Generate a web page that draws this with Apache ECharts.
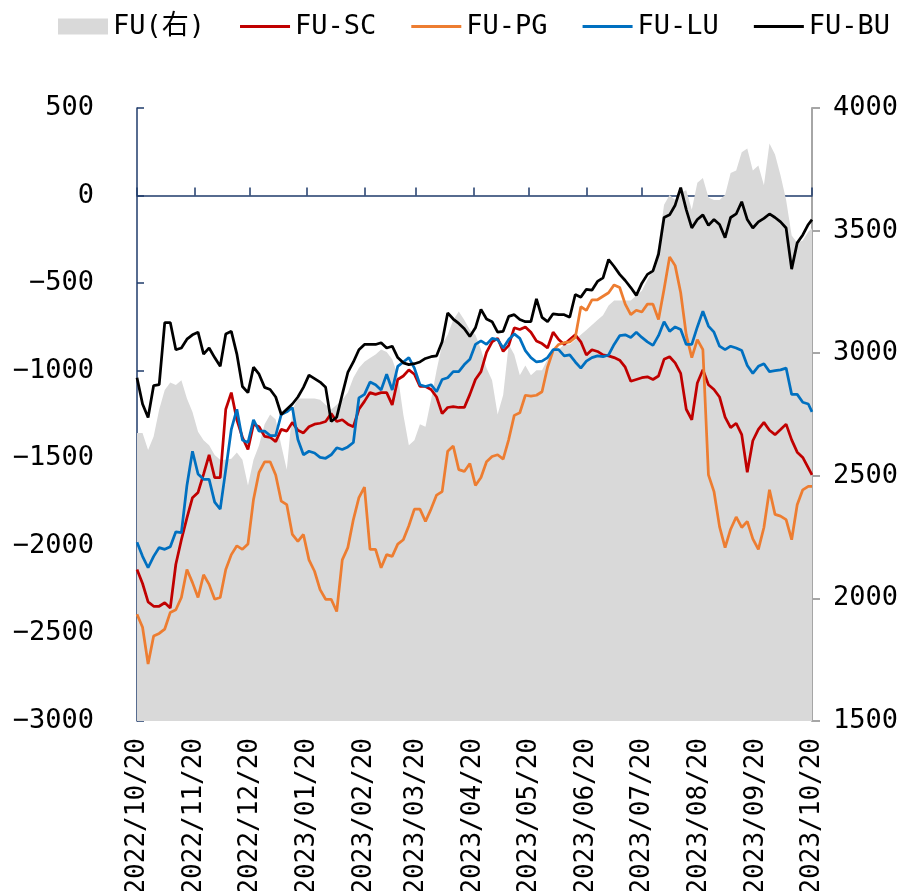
<!DOCTYPE html>
<html><head><meta charset="utf-8">
<script src="https://cdn.jsdelivr.net/npm/echarts@6/dist/echarts.min.js"></script>
<style>html,body{margin:0;padding:0;background:#fff}#c{width:903px;height:891px}</style>
</head><body><div id="c"></div>
<script>
const dates = [
'2022-10-20','2022-10-23','2022-10-26','2022-10-29',
'2022-11-01','2022-11-04','2022-11-07','2022-11-10','2022-11-13','2022-11-16','2022-11-19','2022-11-22','2022-11-25','2022-11-28',
'2022-12-01','2022-12-04','2022-12-07','2022-12-10','2022-12-13','2022-12-16','2022-12-19','2022-12-22','2022-12-25','2022-12-28','2022-12-31',
'2023-01-03','2023-01-06','2023-01-09','2023-01-12','2023-01-15','2023-01-18','2023-01-21','2023-01-24','2023-01-27','2023-01-30',
'2023-02-02','2023-02-05','2023-02-08','2023-02-11','2023-02-14','2023-02-17','2023-02-20','2023-02-23','2023-02-26',
'2023-03-01','2023-03-04','2023-03-07','2023-03-10','2023-03-13','2023-03-16','2023-03-19','2023-03-22','2023-03-25','2023-03-28','2023-03-31',
'2023-04-03','2023-04-06','2023-04-09','2023-04-12','2023-04-15','2023-04-18','2023-04-21','2023-04-24','2023-04-27','2023-04-30',
'2023-05-03','2023-05-06','2023-05-09','2023-05-12','2023-05-15','2023-05-18','2023-05-21','2023-05-24','2023-05-27','2023-05-30',
'2023-06-02','2023-06-05','2023-06-08','2023-06-11','2023-06-14','2023-06-17','2023-06-20','2023-06-23','2023-06-26','2023-06-29',
'2023-07-02','2023-07-05','2023-07-08','2023-07-11','2023-07-14','2023-07-17','2023-07-20','2023-07-23','2023-07-26','2023-07-29',
'2023-08-01','2023-08-04','2023-08-07','2023-08-10','2023-08-13','2023-08-16','2023-08-19','2023-08-22','2023-08-25','2023-08-28','2023-08-31',
'2023-09-03','2023-09-06','2023-09-09','2023-09-12','2023-09-15','2023-09-18','2023-09-21','2023-09-24','2023-09-27','2023-09-30',
'2023-10-03','2023-10-06','2023-10-09','2023-10-12','2023-10-15','2023-10-18','2023-10-20'
];

const fu = [
2675,2675,2605,2660,
2770,2850,2880,2870,2890,2815,2760,2680,2645,2625,
2585,2565,2565,2570,2595,2565,2460,2565,2625,2710,2750,
2730,2625,2525,2770,2815,2815,2815,2815,2810,2790,
2770,2790,2810,2840,2900,2940,2965,2980,2995,
3015,3005,2975,2910,2750,2625,2645,2710,2700,2810,2930,
3035,3075,3135,3170,3135,3095,3075,3015,2940,2890,
2750,2830,3035,2995,2910,2950,2910,2930,2930,2975,
3015,3015,3035,3035,3055,3075,3095,3115,3135,3155,
3195,3215,3215,3215,3215,3235,3255,3300,3340,3440,
3605,3645,3625,3655,3665,3585,3695,3715,3635,3625,3625,
3645,3735,3745,3820,3835,3745,3765,3685,3855,3810,
3725,3625,3480,3450,3460,3495,3510
];

const fuSc = [
-2135,-2215,-2320,-2345,
-2345,-2325,-2355,-2105,-1965,-1840,-1725,-1695,-1590,-1480,
-1610,-1610,-1220,-1125,-1280,-1380,-1450,-1305,-1320,-1375,-1380,
-1405,-1335,-1345,-1295,-1340,-1355,-1320,-1305,-1300,-1290,
-1245,-1290,-1280,-1305,-1320,-1220,-1175,-1125,-1135,
-1125,-1125,-1195,-1050,-1030,-995,-1020,-1090,-1090,-1107,-1150,
-1245,-1210,-1205,-1210,-1210,-1135,-1050,-1005,-895,-835,
-815,-890,-855,-755,-765,-750,-780,-830,-845,-870,
-780,-822,-850,-822,-795,-835,-910,-880,-890,-910,
-915,-925,-940,-980,-1060,-1050,-1040,-1035,-1050,-1030,
-935,-920,-955,-1015,-1220,-1280,-1070,-995,-1080,-1107,-1150,
-1265,-1325,-1300,-1365,-1580,-1400,-1335,-1295,-1340,-1365,
-1336,-1305,-1395,-1465,-1495,-1555,-1595
];

const fuPg = [
-2390,-2465,-2675,-2515,
-2500,-2475,-2380,-2365,-2295,-2135,-2210,-2295,-2165,-2220,
-2305,-2295,-2135,-2050,-2000,-2020,-1990,-1735,-1580,-1520,-1520,
-1595,-1745,-1765,-1935,-1975,-1935,-2080,-2145,-2250,-2305,
-2305,-2375,-2080,-2010,-1850,-1725,-1665,-2020,-2020,
-2125,-2050,-2060,-1990,-1965,-1885,-1790,-1790,-1860,-1790,-1710,
-1690,-1460,-1430,-1565,-1575,-1530,-1655,-1610,-1520,-1490,
-1480,-1505,-1393,-1255,-1240,-1140,-1145,-1140,-1120,-980,
-885,-850,-840,-835,-810,-635,-655,-595,-595,-575,
-555,-510,-525,-620,-680,-655,-665,-620,-620,-708,
-535,-350,-400,-555,-795,-925,-822,-880,-1595,-1690,-1890,
-2010,-1905,-1835,-1895,-1860,-1960,-2020,-1895,-1680,-1820,
-1830,-1850,-1965,-1765,-1680,-1660,-1660
];

const fuLu = [
-1980,-2060,-2125,-2060,
-2010,-2020,-2005,-1920,-1925,-1655,-1460,-1590,-1620,-1620,
-1750,-1790,-1565,-1335,-1220,-1395,-1410,-1280,-1345,-1345,-1370,
-1370,-1250,-1235,-1210,-1393,-1480,-1460,-1470,-1495,-1500,
-1480,-1440,-1450,-1435,-1410,-1155,-1135,-1065,-1080,
-1110,-1020,-1110,-975,-950,-925,-985,-1080,-1090,-1080,-1120,
-1050,-1040,-1005,-1005,-965,-935,-850,-830,-850,-815,
-822,-870,-822,-790,-815,-885,-925,-950,-945,-925,
-880,-880,-915,-910,-950,-985,-945,-925,-915,-920,
-910,-850,-800,-795,-810,-780,-810,-835,-855,-800,
-720,-775,-750,-765,-850,-850,-750,-660,-745,-780,-860,
-880,-860,-870,-885,-970,-1015,-975,-960,-1005,-1000,
-995,-985,-1135,-1135,-1180,-1190,-1235
];

const fuBu = [
-1040,-1190,-1267,-1085,
-1080,-725,-725,-880,-870,-820,-795,-780,-905,-870,
-925,-975,-790,-775,-905,-1090,-1125,-980,-1020,-1095,-1107,
-1150,-1250,-1220,-1190,-1150,-1095,-1025,-1045,-1065,-1095,
-1290,-1265,-1135,-1010,-950,-880,-850,-850,-850,
-840,-870,-860,-925,-955,-965,-960,-950,-930,-920,-915,
-835,-670,-705,-730,-760,-805,-755,-650,-705,-720,
-780,-775,-690,-680,-708,-720,-720,-590,-695,-720,
-675,-680,-680,-695,-565,-580,-535,-540,-490,-470,
-365,-405,-450,-485,-525,-570,-500,-450,-430,-335,
-125,-110,-55,45,-80,-185,-137,-110,-170,-137,-165,
-240,-125,-105,-35,-137,-185,-150,-130,-105,-125,
-150,-185,-420,-270,-225,-165,-137
];

const tickLabels = ['2022/10/20','2022/11/20','2022/12/20','2023/01/20','2023/02/20','2023/03/20','2023/04/20',
'2023/05/20','2023/06/20','2023/07/20','2023/08/20','2023/09/20','2023/10/20'];
const leftTicks = [-3000,-2500,-2000,-1500,-1000,-500,0,500];
const rightTicks = [1500,2000,2500,3000,3500,4000];

function toTime(s){const p=s.split(/[\/-]/).map(Number);return new Date(p[0],p[1]-1,p[2]).getTime();}
const tickTimes = tickLabels.map(toTime);
const pair = arr => dates.map((d,i)=>[toTime(d), arr[i]]);

const FONT = '"DejaVu Sans Mono", "Noto Sans CJK SC", monospace';
const FS = 27;
const NAVY = '#1f3b6b';
const LINE_ICON = 'path://M0,0L50,0L50,0.01L0,0.01Z M0,6.5L50,6.5L50,9.5L0,9.5Z M0,15.99L50,15.99L50,16L0,16Z';
const chart = echarts.init(document.getElementById('c'));
chart.setOption({
  animation:false,
  textStyle:{fontFamily:FONT},
  legend:{
    top:13,left:58,itemWidth:50,itemHeight:16,itemGap:35,padding:0,
    textStyle:{fontSize:FS,color:'#000',fontFamily:FONT},
    data:[
      {name:'FU(右)',icon:'rect',itemStyle:{color:'#d9d9d9'}},
      {name:'FU-SC',icon:LINE_ICON},
      {name:'FU-PG',icon:LINE_ICON},
      {name:'FU-LU',icon:LINE_ICON},
      {name:'FU-BU',icon:LINE_ICON}
    ]
  },
  grid:{left:137,right:91,top:108,bottom:170,containLabel:false,outerBoundsMode:'none'},
  xAxis:[
    {type:'value',min:tickTimes[0],max:tickTimes[tickTimes.length-1],
     axisLine:{onZero:true,onZeroAxisIndex:0,lineStyle:{color:NAVY,width:1.5}},
     axisTick:{show:true,inside:true,length:8,customValues:tickTimes,lineStyle:{color:NAVY,width:1.5}},
     axisLabel:{show:false,customValues:tickTimes},splitLine:{show:false}},
    {type:'value',position:'bottom',min:tickTimes[0],max:tickTimes[tickTimes.length-1],
     axisLine:{show:false},axisTick:{show:false,customValues:tickTimes},splitLine:{show:false},
     axisLabel:{show:true,rotate:90,fontSize:26,color:'#000',margin:17,fontFamily:FONT,
       customValues:tickTimes,
       formatter:function(v){const i=tickTimes.indexOf(v);return i>=0?tickLabels[i]:'';}}}
  ],
  yAxis:[
    {type:'value',min:leftTicks[0],max:leftTicks[leftTicks.length-1],interval:500,
     axisLine:{show:true,lineStyle:{color:NAVY,width:1.5}},
     axisTick:{show:true,inside:true,length:7,lineStyle:{color:NAVY,width:1.5}},
     axisLabel:{fontSize:FS,color:'#000',margin:43,fontFamily:FONT,
       formatter:v=>String(v).replace('-','\u2212')},
     splitLine:{show:false}},
    {type:'value',min:rightTicks[0],max:rightTicks[rightTicks.length-1],interval:500,position:'right',
     axisLine:{show:true,lineStyle:{color:'#a6a6a6',width:2}},
     axisTick:{show:true,inside:false,length:8,lineStyle:{color:'#a6a6a6',width:2}},
     axisLabel:{fontSize:FS,color:'#000',margin:21,fontFamily:FONT,formatter:v=>String(v)},
     splitLine:{show:false}}
  ],
  series:[
    {name:'FU(右)',type:'line',xAxisIndex:0,yAxisIndex:1,data:pair(fu),symbol:'none',
     lineStyle:{width:0},itemStyle:{color:'#d9d9d9'},areaStyle:{color:'#d9d9d9',opacity:1,origin:'start'},z:1},
    {name:'FU-SC',type:'line',xAxisIndex:0,yAxisIndex:0,data:pair(fuSc),symbol:'none',
     lineStyle:{width:2.75,color:'#c00000'},itemStyle:{color:'#c00000'},z:3},
    {name:'FU-PG',type:'line',xAxisIndex:0,yAxisIndex:0,data:pair(fuPg),symbol:'none',
     lineStyle:{width:2.75,color:'#ed7d31'},itemStyle:{color:'#ed7d31'},z:3},
    {name:'FU-LU',type:'line',xAxisIndex:0,yAxisIndex:0,data:pair(fuLu),symbol:'none',
     lineStyle:{width:2.75,color:'#0070c0'},itemStyle:{color:'#0070c0'},z:3},
    {name:'FU-BU',type:'line',xAxisIndex:0,yAxisIndex:0,data:pair(fuBu),symbol:'none',
     lineStyle:{width:2.75,color:'#000000'},itemStyle:{color:'#000000'},z:3}
  ]
});
</script></body></html>
